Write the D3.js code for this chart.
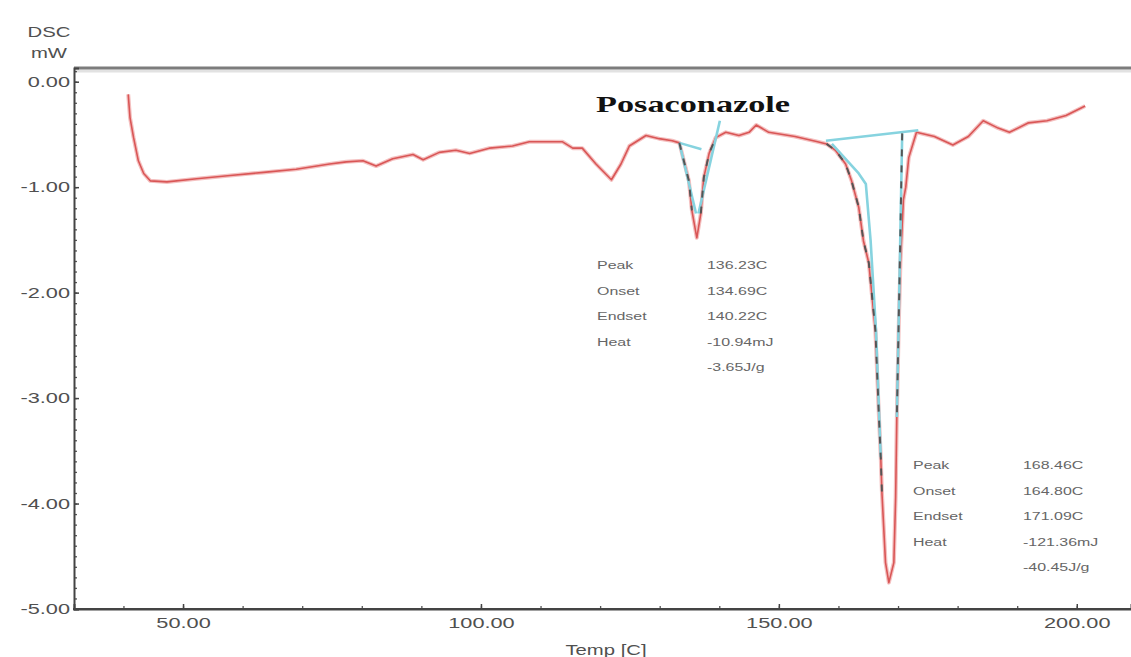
<!DOCTYPE html>
<html>
<head>
<meta charset="utf-8">
<script src="https://cdn.jsdelivr.net/npm/d3@7"></script>
<style>
  html, body { margin: 0; padding: 0; background: #fff; }
  svg { display: block; font-family: "Liberation Sans", Arial, sans-serif; }
</style>
</head>
<body>
<svg id="chart" width="1131" height="657"></svg>
<script>
// DSC thermogram: temperature (°C) vs heat flow (mW)
const temps = [
  40.8, 41.1, 41.7, 42.5, 43.4, 44.5, 47.3, 52.3, 57.9, 63.5, 69.0, 74.6, 77.4, 80.2,
  82.4, 85.2, 88.6, 90.3, 93.0, 95.8, 98.1, 101.4, 105.3, 108.1, 113.7, 115.4, 117.0,
  119.3, 121.9, 123.5, 124.9, 127.7, 129.9, 132.1, 133.3, 134.9, 135.4, 136.23, 136.9,
  137.4, 138.3, 139.4, 141.1, 143.3, 145.0, 146.2, 148.3, 152.7, 156.5, 158.0, 159.5,
  161.2, 162.2, 163.4, 164.2, 165.1, 166.2, 166.8, 167.1, 167.3, 167.9, 168.46, 169.3,
  169.6, 169.8, 170.1, 170.4, 170.9, 171.3, 171.8, 173.1, 176.1, 179.2, 181.8, 184.3,
  186.8, 188.7, 191.9, 195.0, 198.2, 201.4
];
const heatFlow = [
  -0.12, -0.34, -0.53, -0.75, -0.87, -0.94, -0.95, -0.92, -0.89, -0.86, -0.83, -0.78, -0.76, -0.75,
  -0.80, -0.73, -0.69, -0.74, -0.67, -0.65, -0.68, -0.63, -0.61, -0.57, -0.57, -0.63, -0.63,
  -0.78, -0.93, -0.78, -0.61, -0.51, -0.54, -0.56, -0.58, -0.94, -1.22, -1.48, -1.25,
  -0.91, -0.68, -0.53, -0.48, -0.51, -0.48, -0.41, -0.48, -0.52, -0.57, -0.59, -0.65,
  -0.78, -0.94, -1.19, -1.51, -1.72, -2.36, -3.18, -3.56, -3.90, -4.56, -4.75, -4.56,
  -3.94, -3.18, -2.36, -1.72, -1.12, -1.00, -0.72, -0.48, -0.52, -0.60, -0.52, -0.37,
  -0.44, -0.48, -0.39, -0.37, -0.32, -0.23
];

// Analysis construction lines (baselines and tangents), [temp, mW]
const peak1Baseline = [[133.3, -0.58], [137.0, -0.64]];
const peak1Onset    = [[133.3, -0.58], [136.1, -1.25]];
const peak1Endset   = [[136.5, -1.25], [140.1, -0.37]];
const peak2Baseline = [[157.9, -0.56], [173.4, -0.46]];
const peak2Onset    = [[158.9, -0.59], [163.4, -0.87], [164.6, -0.97], [165.4, -1.51], [166.3, -2.36], [167.1, -3.56]];
const peak2Endset   = [[170.7, -0.49], [170.3, -1.72], [169.8, -3.18]];

// Ranges of the trace shown with the dashed analysis overlay
const dashRanges = [[133.3, 136.1], [136.4, 139.5], [158.0, 167.3]];

// Axis ticks
const xTickValues = [50, 100, 150, 200];
const yTickValues = [0, -1, -2, -3, -4, -5];
const xDomain = [31.7, 209.1];
const yDomain = [-5, 0.13];

// Peak result tables
const resultLabels = ["Peak", "Onset", "Endset", "Heat", ""];
const peak1Results = ["136.23C", "134.69C", "140.22C", "-10.94mJ", "-3.65J/g"];
const peak2Results = ["168.46C", "164.80C", "171.09C", "-121.36mJ", "-40.45J/g"];

const title = "Posaconazole";
const xTitle = "Temp [C]";
const yTitle = ["DSC", "mW"];

// ---- layout ----
const W = 1131, H = 657;
const margin = { left: 74, right: 0, top: 68, bottom: 48 };
const SX = 1.45;  // horizontal text stretch
const SANS = "'Liberation Sans', Arial, sans-serif";
const SERIF = "'Liberation Serif', 'Times New Roman', serif";

const svg = d3.select("#chart");
const x = d3.scaleLinear().domain(xDomain).range([margin.left, W - margin.right]);
const y = d3.scaleLinear().domain(yDomain).range([H - margin.bottom, margin.top]);

// top frame line
svg.append("line")
  .attr("x1", margin.left).attr("x2", W).attr("y1", margin.top + 3).attr("y2", margin.top + 3)
  .attr("stroke", "#e2e2e2").attr("stroke-width", 3);
svg.append("line")
  .attr("x1", margin.left).attr("x2", W).attr("y1", margin.top).attr("y2", margin.top)
  .attr("stroke", "#7c7c7c").attr("stroke-width", 3);

function stretchText(sel) {
  sel.each(function () {
    const t = d3.select(this);
    const tx = +t.attr("x") || 0;
    t.attr("x", tx / SX).attr("transform", `scale(${SX},1)`);
  });
}

// y axis
const yMinor = d3.range(-50, 2).map(d => d / 10);
svg.append("g")
  .attr("transform", `translate(${margin.left},0)`)
  .call(d3.axisLeft(y).tickValues(yMinor).tickSize(-3).tickFormat(""))
  .call(g => g.select(".domain").remove())
  .call(g => g.selectAll("line").attr("stroke", "#555").attr("stroke-width", 1.3));

const yAxis = svg.append("g")
  .attr("transform", `translate(${margin.left},0)`)
  .call(d3.axisLeft(y).tickValues(yTickValues).tickSize(-5).tickPadding(4).tickFormat(d => d.toFixed(2)));
yAxis.select(".domain").attr("stroke", "#444").attr("stroke-width", 2);
yAxis.selectAll("line").attr("stroke", "#444").attr("stroke-width", 1.5);
yAxis.selectAll("text")
  .attr("fill", "#505050").attr("font-size", 15).style("font-family", SANS)
  .call(stretchText);

// x axis
const xMinor = d3.range(40, 210, 10);
svg.append("g")
  .attr("transform", `translate(0,${H - margin.bottom})`)
  .call(d3.axisBottom(x).tickValues(xMinor).tickSize(-3).tickFormat(""))
  .call(g => g.select(".domain").remove())
  .call(g => g.selectAll("line").attr("stroke", "#555").attr("stroke-width", 1.3));

const xAxis = svg.append("g")
  .attr("transform", `translate(0,${H - margin.bottom})`)
  .call(d3.axisBottom(x).tickValues(xTickValues).tickSize(-5).tickPadding(8).tickFormat(d => d.toFixed(2)));
xAxis.select(".domain").attr("stroke", "#444").attr("stroke-width", 2);
xAxis.selectAll("line").attr("stroke", "#444").attr("stroke-width", 1.5);
xAxis.selectAll("text")
  .attr("fill", "#505050").attr("font-size", 15).style("font-family", SANS)
  .call(stretchText);

// extend bottom axis line to the left corner
svg.append("line")
  .attr("x1", margin.left - 1).attr("x2", W).attr("y1", H - margin.bottom).attr("y2", H - margin.bottom)
  .attr("stroke", "#444").attr("stroke-width", 2);

// stretched free-standing labels
function stretchedLabel(str, px, py, size, anchor, color, family, weight, sx) {
  const t = svg.append("text")
    .attr("transform", `translate(${px},${py}) scale(${sx || SX},1)`)
    .attr("text-anchor", anchor || "start")
    .attr("font-size", size)
    .attr("fill", color || "#555")
    .style("font-family", family || SANS)
    .text(str);
  if (weight) t.style("font-weight", weight);
  return t;
}
stretchedLabel(yTitle[0], 49, 37, 14, "middle", "#505050");
stretchedLabel(yTitle[1], 49, 58, 14, "middle", "#505050");
stretchedLabel(xTitle, 606, 655, 14, "middle", "#505050");

// trace
const pts = temps.map((t, i) => [t, heatFlow[i]]);
const line = d3.line().x(d => x(d[0])).y(d => y(d[1]));

svg.append("path").datum(pts).attr("d", line)
  .attr("fill", "none").attr("stroke", "#f4c0c0").attr("stroke-width", 4)
  .attr("stroke-linejoin", "round");
svg.append("path").datum(pts).attr("d", line)
  .attr("fill", "none").attr("stroke", "#d95656").attr("stroke-width", 1.6)
  .attr("stroke-linejoin", "round");

// construction lines
const cyanSets = [peak1Baseline, peak1Onset, peak1Endset, peak2Baseline, peak2Onset, peak2Endset];
svg.append("g").selectAll("path").data(cyanSets).join("path")
  .attr("d", line)
  .attr("fill", "none").attr("stroke", "#86d3df").attr("stroke-width", 2.6)
  .attr("stroke-linejoin", "round");

// dashed overlay on analysed ranges
svg.append("g").selectAll("path").data(dashRanges).join("path")
  .attr("d", r => line(pts.filter(p => p[0] >= r[0] && p[0] <= r[1])))
  .attr("fill", "none").attr("stroke", "#555").attr("stroke-width", 2)
  .attr("stroke-dasharray", "7,9");
svg.append("path").datum(peak2Endset).attr("d", line)
  .attr("fill", "none").attr("stroke", "#555").attr("stroke-width", 2)
  .attr("stroke-dasharray", "7,9");

// title
stretchedLabel(title, 596, 112, 23, "start", "#111", SERIF, "bold", 1.49);

// result tables
function table(values, lx, vx, y0) {
  const rowH = 25.5;
  resultLabels.forEach((lab, i) => {
    if (lab) stretchedLabel(lab, lx, y0 + i * rowH, 11, "start", "#666");
    stretchedLabel(values[i], vx, y0 + i * rowH, 11, "start", "#666");
  });
}
table(peak1Results, 597, 707, 269);
table(peak2Results, 913, 1023, 469);
</script>
</body>
</html>
